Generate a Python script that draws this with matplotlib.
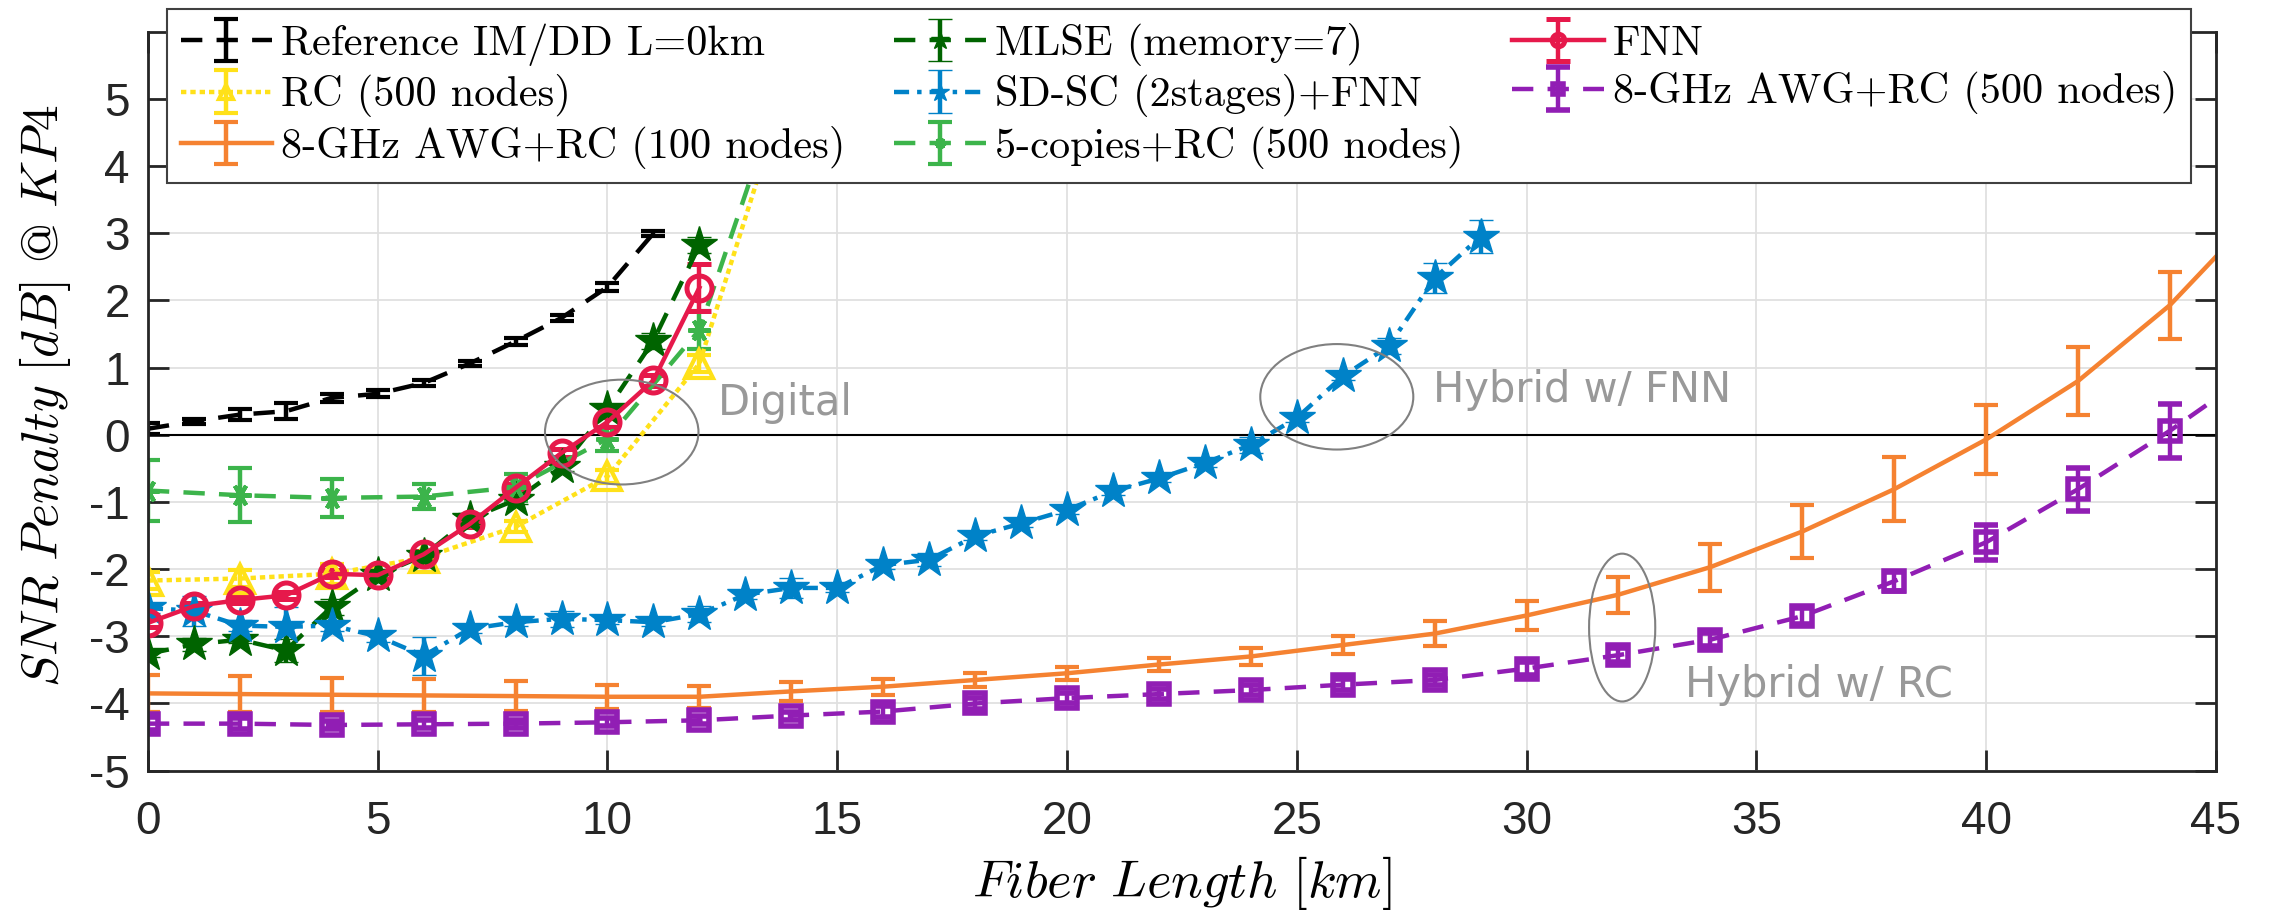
import matplotlib.pyplot as plt
from matplotlib.patches import Ellipse

plt.rcParams['mathtext.fontset'] = 'cm'
plt.rcParams['axes.unicode_minus'] = False

# values
ref_km = [0, 1, 2, 3, 4, 5, 6, 7, 8, 9, 10, 11]
ref_snr = [0.09, 0.2, 0.3, 0.35, 0.55, 0.61, 0.77, 1.06, 1.39, 1.74, 2.2, 3.0]
ref_err = [0.08, 0.04, 0.08, 0.12, 0.06, 0.05, 0.04, 0.04, 0.05, 0.05, 0.06, 0.04]

rc_km = [0, 2, 4, 6, 8, 10, 12, 14]
rc_snr = [-2.17, -2.14, -2.07, -1.83, -1.37, -0.62, 1.06, 5.4]
rc_err = [0.12, 0.12, 0.15, 0.1, 0.08, 0.1, 0.12, 0.1]

awg_km = [0, 2, 4, 6, 8, 10, 12, 14, 16, 18, 20, 22, 24, 26, 28, 30, 32, 34,
          36, 38, 40, 42, 44, 46]
awg100_snr = [-3.85, -3.86, -3.87, -3.88, -3.89, -3.9, -3.9, -3.82, -3.75, -3.65,
              -3.55, -3.42, -3.3, -3.13, -2.96, -2.69, -2.38, -1.97, -1.44, -0.81,
              -0.07, 0.8, 1.93, 3.37]
awg100_err = [0.28, 0.27, 0.25, 0.24, 0.22, 0.18, 0.16, 0.14, 0.12, 0.1, 0.1, 0.1,
              0.12, 0.14, 0.19, 0.21, 0.27, 0.35, 0.4, 0.48, 0.52, 0.5, 0.5, 0.5]
awg500_snr = [-4.3, -4.3, -4.32, -4.31, -4.3, -4.28, -4.25, -4.18, -4.12, -4.0,
              -3.92, -3.86, -3.8, -3.72, -3.65, -3.48, -3.28, -3.05, -2.7, -2.18,
              -1.6, -0.81, 0.06, 1.02]
awg500_err = [0.1, 0.08, 0.06, 0.06, 0.06, 0.06, 0.06, 0.06, 0.08, 0.08, 0.08, 0.08,
              0.08, 0.08, 0.08, 0.1, 0.1, 0.1, 0.12, 0.14, 0.26, 0.32, 0.4, 0.4]

mlse_km = [0, 1, 2, 3, 4, 5, 6, 7, 8, 9, 10, 11, 12]
mlse_snr = [-3.26, -3.12, -3.05, -3.21, -2.56, -2.09, -1.8, -1.25, -0.97, -0.48,
            0.38, 1.4, 2.82]
mlse_err = [0.05, 0.1, 0.05, 0.17, 0.12, 0.05, 0.05, 0.08, 0.06, 0.06, 0.08, 0.12, 0.12]

sdsc_km = [0, 1, 2, 3, 4, 5, 6, 7, 8, 9, 10, 11, 12, 13, 14, 15, 16, 17, 18, 19,
           20, 21, 22, 23, 24, 25, 26, 27, 28, 29]
sdsc_snr = [-2.58, -2.62, -2.84, -2.86, -2.84, -3.0, -3.29, -2.89, -2.79, -2.74,
            -2.76, -2.79, -2.67, -2.38, -2.28, -2.28, -1.94, -1.86, -1.51, -1.32,
            -1.12, -0.84, -0.65, -0.42, -0.15, 0.25, 0.87, 1.32, 2.33, 2.95]
sdsc_err = [0.08, 0.22, 0.08, 0.3, 0.08, 0.08, 0.28, 0.06, 0.06, 0.12, 0.06, 0.06,
            0.12, 0.06, 0.15, 0.06, 0.06, 0.1, 0.06, 0.06, 0.06, 0.06, 0.06, 0.06,
            0.12, 0.06, 0.06, 0.12, 0.22, 0.24]

copies_km = [0, 2, 4, 6, 8, 10, 12, 14]
copies_snr = [-0.83, -0.9, -0.94, -0.92, -0.78, -0.06, 1.56, 5.6]
copies_err = [0.45, 0.4, 0.28, 0.18, 0.2, 0.18, 0.28, 0.2]

fnn_km = [0, 1, 2, 3, 4, 5, 6, 7, 8, 9, 10, 11, 12]
fnn_snr = [-2.8, -2.55, -2.46, -2.39, -2.07, -2.09, -1.78, -1.33, -0.79, -0.27,
           0.19, 0.81, 2.19]
fnn_err = [0.06, 0.05, 0.05, 0.05, 0.05, 0.06, 0.05, 0.05, 0.06, 0.06, 0.08, 0.08, 0.35]

labels = ['Reference IM/DD L=0km', 'RC (500 nodes)', '8-GHz AWG+RC (100 nodes)',
          'MLSE (memory=7)', 'SD-SC (2stages)+FNN', '5-copies+RC (500 nodes)',
          'FNN', '8-GHz AWG+RC (500 nodes)']

fig = plt.figure(figsize=(22.69, 9.13), dpi=100)
ax = fig.add_axes([0.0652, 0.1559, 0.9114, 0.8094])

lw = 3.2
dash = (0, (4.8, 3.2))


def eb(x, y, e, color, ls, marker=None, ms=0, mfc='none', mew=3, label=None):
    ax.errorbar(x, y, yerr=e, color=color, ls=ls, lw=lw, marker=marker, ms=ms,
                mfc=mfc, mec=color, mew=mew, capsize=8.5, capthick=3.2,
                elinewidth=3.2, label=label)


eb(ref_km, ref_snr, ref_err, 'black', dash, label=labels[0])
eb(rc_km, rc_snr, rc_err, '#ffe119', (0, (1.2, 0.9)), '^', 20, label=labels[1])
eb(awg_km, awg100_snr, awg100_err, '#f58231', '-', label=labels[2])
eb(mlse_km, mlse_snr, mlse_err, '#006400', dash, '*', 27, mfc='#006400', mew=1,
   label=labels[3])
eb(sdsc_km, sdsc_snr, sdsc_err, '#0082c8', (0, (3.4, 1.8, 1.0, 1.8)), '*', 27,
   mfc='#0082c8', mew=1, label=labels[4])
eb(copies_km, copies_snr, copies_err, '#3cb44b', dash, (6, 2, 90), 16,
   label=labels[5])
eb(fnn_km, fnn_snr, fnn_err, '#e6194b', '-', 'o', 18, mew=3.6, label=labels[6])
eb(awg_km, awg500_snr, awg500_err, '#911eb4', dash, 's', 15, mew=4,
   label=labels[7])

ax.axhline(0, color='black', lw=1.5, zorder=1.5)

ax.set_xlim(0, 45)
ax.set_ylim(-5, 6)
ax.set_xticks(range(0, 46, 5))
ax.set_yticks(range(-5, 6))
ax.grid(True, color='#e0e0e0', lw=1.3)
ax.set_axisbelow(True)
for s in ax.spines.values():
    s.set_color('#262626')
    s.set_linewidth(2)
ax.tick_params(direction='in', length=15, width=2, color='#262626',
               labelcolor='#262626', labelsize=33, top=True, right=True)
ax.tick_params(axis='x', pad=21)
ax.tick_params(axis='y', pad=13)
for t in ax.get_xticklabels() + ax.get_yticklabels():
    t.set_fontfamily('Liberation Sans')

ax.set_xlabel(r'$Fiber\ Length\ [km]$', fontsize=38)
ax.xaxis.set_label_coords(0.5, -0.1526)
ax.xaxis.label.set_va('center')
ax.set_ylabel(r'$SNR\ Penalty\ [dB]\ \mathrm{@}\ KP4$', fontsize=37)
ax.yaxis.set_label_coords(-0.0498, 0.507)
ax.yaxis.label.set_va('center')

# annotations
gray = '#999999'
for cx, cy, w, h in [(10.31, 0.04, 3.34, 1.56), (25.87, 0.565, 3.33, 1.57),
                     (32.08, -2.87, 1.44, 2.2)]:
    ax.add_patch(Ellipse((cx, cy), w, h, fill=False, ec='#808080', lw=1.5, zorder=5))
ax.text(12.4, 0.47, 'Digital', color=gray, fontsize=30, va='center')
ax.text(27.97, 0.66, 'Hybrid w/ FNN', color=gray, fontsize=30, va='center')
ax.text(33.44, -3.72, 'Hybrid w/ RC', color=gray, fontsize=30, va='center')

leg = ax.legend(ncol=3, loc='upper left', bbox_to_anchor=(0.009, 0.7993, 0.979, 0.2314),
                mode='expand', borderaxespad=0, prop={'family': 'cmr10', 'size': 30.5},
                handlelength=2.17, handletextpad=0.2, borderpad=0.33,
                labelspacing=0.2, columnspacing=0.4, markerscale=0.5,
                fancybox=False, framealpha=1, edgecolor='#404040')
leg.get_frame().set_linewidth(1.5)

fig.savefig('out.png', dpi=100)
